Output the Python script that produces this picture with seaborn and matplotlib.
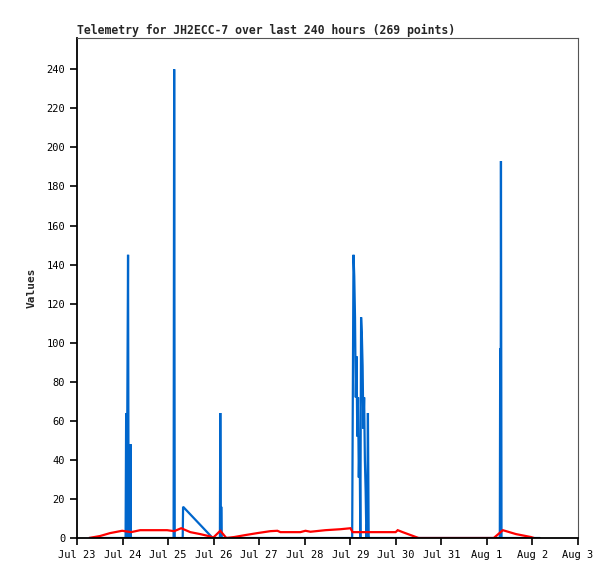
import numpy as np
import pandas as pd
import seaborn as sns
import matplotlib.pyplot as plt
import matplotlib.dates as mdates

# hours since Jul 23 00:00
blue_hours = [6.3, 25.6, 25.9, 26.2, 26.5, 26.9, 27.2, 27.6, 27.9, 28.2, 28.4,
              50.9, 51.2, 51.5, 55.7, 55.9, 71.5, 75.3, 75.5, 75.8, 76.0, 76.3,
              145.0, 145.3, 145.7, 146.1, 146.5, 146.9, 147.3, 147.7, 148.1, 148.5,
              148.9, 149.3, 149.7, 150.1, 150.5, 150.9, 151.3, 151.7, 152.1,
              152.5, 152.9, 153.3, 153.7, 154.1,
              222.8, 223.0, 223.2, 223.4, 223.7, 244.0]
blue_vals = [0, 0, 64, 0, 64, 145, 0, 48, 0, 48, 0,
             0, 240, 0, 0, 16, 0, 0, 64, 0, 16, 0,
             0, 64, 145, 134, 113, 72, 93, 52, 72, 31,
             52, 0, 113, 104, 88, 56, 72, 40, 24,
             0, 8, 64, 0, 0,
             0, 97, 0, 193, 0, 0]

red_hours = [6.3, 12.1, 17.4, 23.8, 28.5, 33.3, 47.5, 51.2, 54.9, 59.7, 64.9,
             70.2, 71.8, 75.5, 78.7, 82.9, 88.7, 95.0, 101.9, 105.6, 107.2,
             117.7, 120.4, 123.0, 130.9, 138.9, 144.1, 145.2, 160.0, 167.9,
             169.0, 171.6, 175.8, 180.0, 219.6, 224.4, 231.3, 239.2, 240.8]
red_vals = [0, 1, 2.5, 3.7, 3.0, 4, 4, 3.5, 5, 3, 2,
            0.8, 0.2, 3.7, 0, 0.5, 1.5, 2.5, 3.5, 3.7, 3.0,
            3.0, 3.7, 3.2, 4, 4.5, 5, 3, 3, 3,
            4, 3, 1.5, 0, 0, 4, 2, 0.5, 0]

black_hours = [6.3, 244.0]
black_vals = [0, 0]

base = pd.Timestamp("2023-07-23")


def to_df(hours, vals):
    return pd.DataFrame({"time": base + pd.to_timedelta(hours, unit="h"), "value": vals})


sns.set_style("ticks")
plt.rcParams['font.family'] = ['DejaVu Sans Mono']

fig = plt.figure(figsize=(6.15, 5.79), dpi=100)
ax = fig.add_axes([77 / 615, 41 / 579, 501 / 615, 500 / 579])

line_kw = dict(estimator=None, sort=False, ax=ax,
               solid_joinstyle="miter", solid_capstyle="butt")
sns.lineplot(data=to_df(blue_hours, blue_vals), x="time", y="value", color="#0066cc",
             linewidth=1.6, **line_kw)
sns.lineplot(data=to_df(black_hours, black_vals), x="time", y="value", color="black",
             linewidth=2.0, **line_kw)
sns.lineplot(data=to_df(red_hours, red_vals), x="time", y="value", color="red",
             linewidth=1.6, **line_kw)

ax.set_xlim(base, base + pd.Timedelta(days=11))
ax.set_ylim(0, 256)
ax.set_yticks(np.arange(0, 241, 20))
ax.xaxis.set_major_locator(mdates.DayLocator())
ax.xaxis.set_major_formatter(mdates.DateFormatter("%b %-d"))

ax.tick_params(axis="both", direction="out", length=5, width=1.2, labelsize=7.5, colors="black")
for side in ["left", "bottom"]:
    ax.spines[side].set_linewidth(1.3)
    ax.spines[side].set_color("black")
for side in ["top", "right"]:
    ax.spines[side].set_linewidth(0.8)
    ax.spines[side].set_color("#555555")

ax.set_xlabel("")
ax.set_ylabel("Values", fontsize=8, fontweight="bold", labelpad=7)
ax.set_title("Telemetry for JH2ECC-7 over last 240 hours (269 points)", loc="left",
             fontsize=8.3, fontweight="bold", pad=3)

fig.savefig("out.png", dpi=100)
